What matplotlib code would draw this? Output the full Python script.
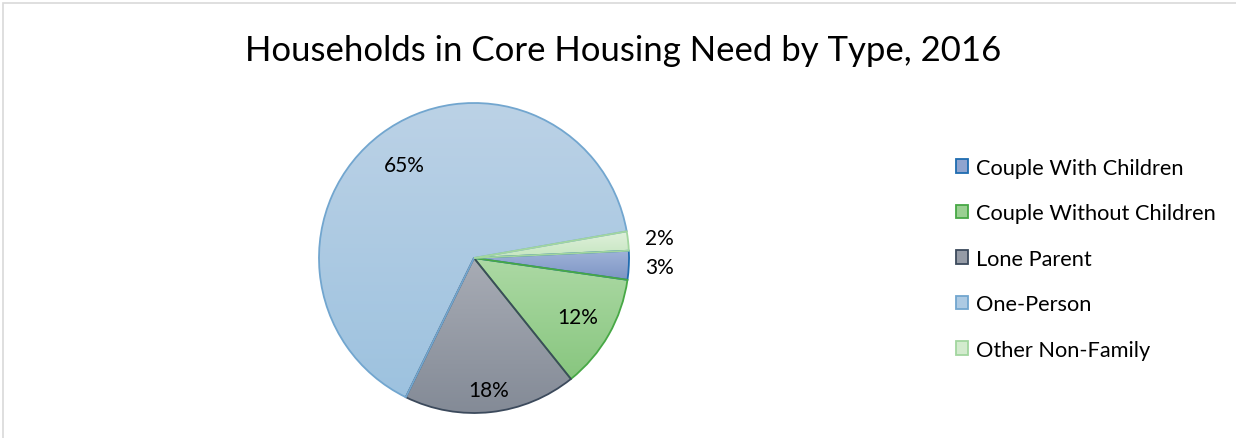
import matplotlib.pyplot as plt
import numpy as np
from matplotlib.colors import LinearSegmentedColormap, to_rgb
from matplotlib.patches import Patch, Rectangle

# Data
categories = [
    "Couple With Children",
    "Couple Without Children",
    "Lone Parent",
    "One-Person",
    "Other Non-Family",
]
shares = [3, 12, 18, 65, 2]

# Styling per slice: (top colour, bottom colour, edge colour)
grad_top = ["#a0b3d9", "#acd9a4", "#a8acb5", "#bcd2e6", "#dff0db"]
grad_bottom = ["#7d95c4", "#88c67f", "#838a96", "#9dc2df", "#c6e6c0"]
edges = ["#1f6cb0", "#47a845", "#3c4a5c", "#72a6cf", "#a2d69f"]
label_dist = [1.2, 0.77, 0.86, 0.75, 1.2]

FONT = ["Lato", "DejaVu Sans"]

W, H = 1236, 439
fig = plt.figure(figsize=(W / 100, H / 100), dpi=100)

# chart frame
fig.patches.append(
    Rectangle((3 / W, -0.05), 1.2, (H - 4) / H + 0.05, transform=fig.transFigure,
              facecolor="none", edgecolor="#d9d9d9", linewidth=1.2)
)

fig.text(623 / W, 1 - 51 / H, "Households in Core Housing Need by Type, 2016",
         ha="center", va="center", fontsize=25, family=FONT, color="#000000")

# pie axes centred at (474, 259) px, radius 155 px
cx, cy, r = 474, 259, 155
ax = fig.add_axes([(cx - r) / W, (H - cy - r) / H, 2 * r / W, 2 * r / H])
ax.set_xlim(-1, 1)
ax.set_ylim(-1, 1)
ax.set_aspect("equal")
ax.axis("off")

wedges, _ = ax.pie(
    shares, startangle=2.7, counterclock=False, radius=1,
    colors=grad_bottom,
    wedgeprops=dict(linewidth=1.3),
)

grad = np.linspace(1, 0, 256).reshape(-1, 1)
for i, w in enumerate(wedges):
    w.set_edgecolor(edges[i])
    w.set_facecolor("none")
    w.set_zorder(3)
    # vertical gradient fill clipped to the slice
    verts = w.get_path().vertices
    x0, y0 = verts.min(axis=0)
    x1, y1 = verts.max(axis=0)
    cmap = LinearSegmentedColormap.from_list(f"g{i}", [grad_bottom[i], grad_top[i]])
    im = ax.imshow(grad, cmap=cmap, extent=[x0, x1, y0, y1], aspect="auto",
                   origin="upper", zorder=2, interpolation="bilinear")
    im.set_clip_path(w)

    theta = np.deg2rad((w.theta1 + w.theta2) / 2)
    d = label_dist[i]
    ax.text(d * np.cos(theta), d * np.sin(theta), f"{shares[i]}%",
            ha="center", va="center", fontsize=15, family=FONT, zorder=5)

ax.set_xlim(-1, 1)
ax.set_ylim(-1, 1)

handles = [
    Patch(facecolor=(np.array(to_rgb(grad_top[i])) + np.array(to_rgb(grad_bottom[i]))) / 2,
          edgecolor=edges[i], linewidth=1.3)
    for i in range(len(categories))
]
fig.legend(handles, categories, loc="upper left",
           bbox_to_anchor=(947 / W, 1 - 150 / H), frameon=False,
           prop=dict(family=FONT, size=15.7), handlelength=0.55, handleheight=0.55,
           handletextpad=0.4, labelspacing=1.17, borderaxespad=0)

fig.savefig("out.png", dpi=100)
